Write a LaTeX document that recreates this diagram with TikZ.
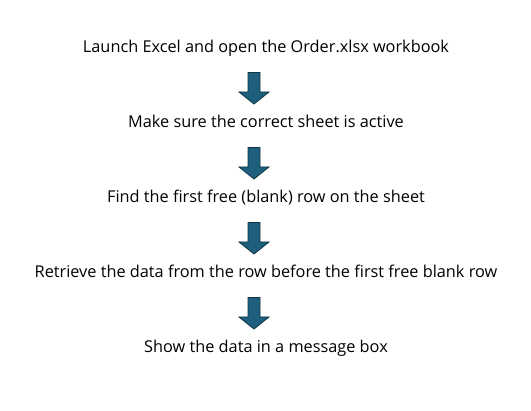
\documentclass[tikz,border=0pt]{standalone}
\usepackage{fontspec}
\setmainfont{Open Sans}
\usetikzlibrary{calc}
\begin{document}
\begin{tikzpicture}[x=1pt,y=-1pt,
  steptext/.style={anchor=base,inner sep=0pt,font=\fontsize{16.3}{19}\selectfont},
  downarrow/.style={fill=arrowblue,draw=arrowedge,line width=0.8pt,line join=miter}]
\definecolor{arrowblue}{HTML}{1F5F7E}
\definecolor{arrowedge}{HTML}{0E3448}
\useasboundingbox (0,0) rectangle (531,411);
\node[steptext] (s1) at (266,52.5) {Launch Excel and open the Order.xlsx workbook};
\node[steptext] (s2) at (266,127.5) {Make sure the correct sheet is active};
\node[steptext] (s3) at (266,202.5) {Find the first free (blank) row on the sheet};
\node[steptext] (s4) at (266,277.5) {Retrieve the data from the row before the first free blank row};
\node[steptext] (s5) at (266,352.5) {Show the data in a message box};
\foreach \k in {0,1,2,3}{
  \coordinate (a\k) at (254,{72.5+75*\k});
  \draw[downarrow] ($(a\k)+(-6,0)$) -- ++(12,0) -- ++(0,19.5) -- ++(9,0) -- ($(a\k)+(0,31.5)$) -- ($(a\k)+(-15,19.5)$) -- ++(9,0) -- cycle;
}
\end{tikzpicture}
\end{document}
